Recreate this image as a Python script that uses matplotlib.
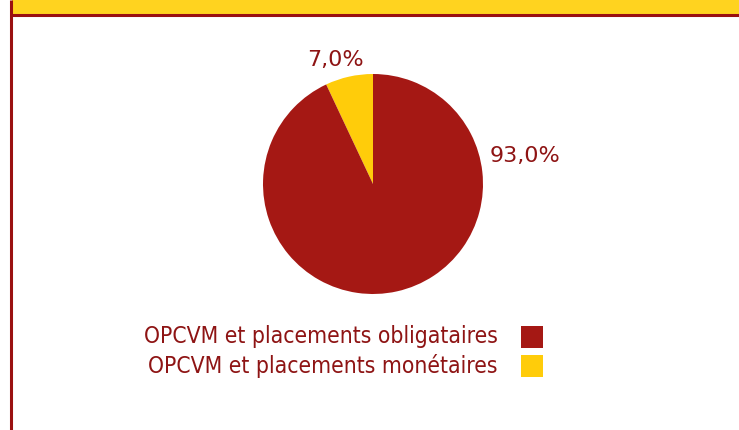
import matplotlib
matplotlib.use("Agg")
import matplotlib.pyplot as plt
from matplotlib.patches import Rectangle

categories = ["OPCVM et placements monétaires", "OPCVM et placements obligataires"]
shares = [7.0, 93.0]
colors = ["#FFCC0A", "#A51814"]
pct_labels = ["7,0%", "93,0%"]

W, H = 739, 430
fig = plt.figure(figsize=(W / 100, H / 100), dpi=100)
ax = fig.add_axes([0, 0, 1, 1])


def Y(y):
    return H - y


text_red = "#8E1414"
border = "#9A1010"
legend_font = dict(family="DejaVu Sans", fontstretch="condensed", fontsize=16.4)
label_font = dict(family="DejaVu Sans", fontsize=16.0)

# header band and frame
ax.add_patch(Rectangle((12, Y(14)), W - 12, 14, facecolor="#FFD31F", edgecolor="none"))
ax.plot([12, W], [Y(15), Y(15)], color=border, lw=2.2, solid_capstyle="butt")
ax.plot([11, 11], [0, H], color=border, lw=2.2, solid_capstyle="butt")

# pie
ax.pie(shares, colors=colors, startangle=90, counterclock=True,
       center=(373, Y(184)), radius=110, frame=True,
       wedgeprops=dict(linewidth=0))
ax.set_xlim(0, W)
ax.set_ylim(0, H)
ax.axis("off")

ax.text(335, Y(60), pct_labels[0], ha="center", va="center",
        color=text_red, **label_font)
ax.text(525, Y(156), pct_labels[1], ha="center", va="center",
        color=text_red, **label_font)

# legend
rows = [(categories[1], colors[1], 337), (categories[0], colors[0], 366)]
for label, c, yc in rows:
    ax.text(498, Y(yc), label, ha="right", va="center",
            color=text_red, **legend_font)
    ax.add_patch(Rectangle((521, Y(yc + 11)), 22, 22, facecolor=c, edgecolor="none"))

fig.savefig("out.png", dpi=100)
